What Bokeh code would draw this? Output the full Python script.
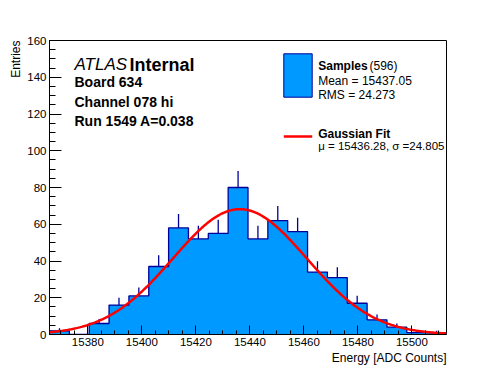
import numpy as np
from bokeh.plotting import figure
from bokeh.models import Label, BoxAnnotation, SingleIntervalTicker, Range1d, Title
from bokeh.embed import file_html
from bokeh.resources import INLINE

# ---- data ----
x_min = 15365.8
bin_width = 7.35
counts = [2, 0, 6, 16, 21, 37, 58, 52, 55, 80, 52, 62, 56, 34, 31, 17, 8, 4, 1, 1]
y_max = 160
fit_mu = 15436.28
fit_sigma = 24.805
fit_amp = 68.2
n_samples = 596
sample_mean = "15437.05"
sample_rms = "24.273"
board = "634"
channel = "078 hi"
run = "1549"
amp_a = "0.038"

edges = x_min + bin_width * np.arange(len(counts) + 1)
x_max = edges[-1]
cnt = np.array(counts, dtype=float)
centers = 0.5 * (edges[:-1] + edges[1:])

FILL = "#0099FF"
NAVY = "#000099"
FONT = "Liberation Sans"

p = figure(width=496, height=372, frame_width=397, frame_height=294,
           x_range=Range1d(x_min, x_max), y_range=Range1d(0, y_max),
           output_backend="svg", toolbar_location=None,
           min_border_left=49, min_border_right=50, min_border_top=40, min_border_bottom=38)
p.background_fill_color = "white"
p.border_fill_color = "white"
p.outline_line_color = "black"
p.outline_line_width = 1
p.xgrid.visible = False
p.ygrid.visible = False

step_y = list(counts) + [counts[-1]]
p.varea_step(x=edges, y1=np.zeros(len(edges)), y2=step_y, step_mode="after",
             fill_color=FILL, fill_alpha=1)
p.step(x=edges, y=step_y, mode="after", line_color=NAVY, line_width=1.3)
p.segment(x0=centers, y0=cnt, x1=centers, y1=cnt + np.sqrt(cnt), line_color=NAVY, line_width=1.3)

xs = np.linspace(x_min, x_max, 400)
ys = fit_amp * np.exp(-0.5 * ((xs - fit_mu) / fit_sigma) ** 2)
p.line(xs, ys, line_color="#FF0000", line_width=2.5)

# axes
p.xaxis.ticker = SingleIntervalTicker(interval=20, num_minor_ticks=4)
p.yaxis.ticker = SingleIntervalTicker(interval=20, num_minor_ticks=4)
for ax in (p.xaxis[0], p.yaxis[0]):
    ax.major_tick_out = 0
    ax.minor_tick_out = 0
    ax.axis_line_color = "black"
    ax.major_tick_line_color = "black"
    ax.minor_tick_line_color = "black"
    ax.major_label_text_font = FONT
    ax.major_label_text_font_size = "11.5px"
    ax.major_label_text_color = "black"
p.xaxis.major_tick_in = 9
p.xaxis.minor_tick_in = 4
p.yaxis.major_tick_in = 12
p.yaxis.minor_tick_in = 6
p.xaxis.major_label_standoff = 3
p.yaxis.major_label_standoff = 3

# axis titles, aligned to the far end of each axis
p.add_layout(Title(text="Entries", align="right", text_font=FONT, text_font_size="12px",
                   text_font_style="normal", text_color="black", standoff=4), "left")
p.add_layout(Title(text="Energy [ADC Counts]", align="right", text_font=FONT,
                   text_font_size="12px", text_font_style="normal", text_color="black",
                   standoff=0), "below")


def lab(x, y, text, size="12px", style="normal", align="left", angle=0):
    p.add_layout(Label(x=x, y=y, x_units="screen", y_units="screen", text=text,
                       text_font=FONT, text_font_size=size, text_font_style=style,
                       text_align=align, text_baseline="alphabetic", angle=angle,
                       text_color="black"))


# ATLAS block
lab(25, 270, "ATLAS", size="17px", style="italic")
lab(80, 270, "Internal", size="18px", style="bold")
lab(25, 252.3, f"Board {board}", size="14px", style="bold")
lab(25, 232.3, f"Channel {channel}", size="14px", style="bold")
lab(25, 213.3, f"Run {run} A={amp_a}", size="14px", style="bold")

# legend
p.add_layout(BoxAnnotation(left=234.3, right=262.7, bottom=237.3, top=280.7,
                           left_units="screen", right_units="screen",
                           bottom_units="screen", top_units="screen",
                           fill_color=FILL, fill_alpha=1, line_color=NAVY,
                           line_alpha=1, line_width=1))
lab(268.7, 268.7, "Samples", style="bold")
lab(320, 268.7, f"({n_samples})")
lab(268.7, 254, f"Mean = {sample_mean}")
lab(268.7, 240, f"RMS = {sample_rms}")
p.add_layout(BoxAnnotation(left=234.3, right=262.7, bottom=196.8, top=199.3,
                           left_units="screen", right_units="screen",
                           bottom_units="screen", top_units="screen",
                           fill_color="#FF0000", fill_alpha=1, line_color=None))
lab(268.7, 200.7, "Gaussian Fit", style="bold")
lab(268.7, 189, f"\u03bc = {fit_mu:.2f}, \u03c3 ={fit_sigma:.3f}", size="11.5px")

open("out.html", "w").write(file_html(p, INLINE))
